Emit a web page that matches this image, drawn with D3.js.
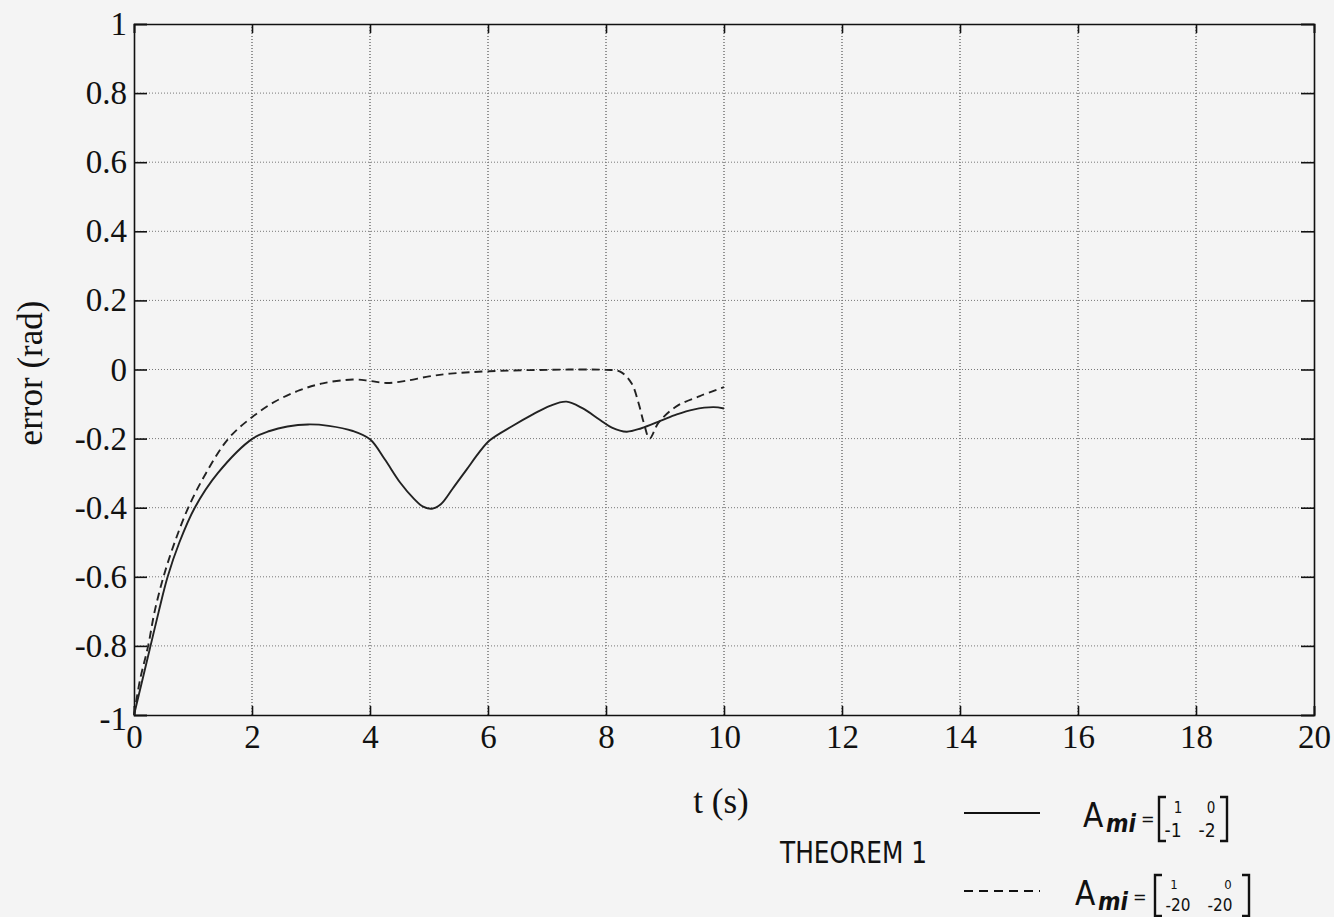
<!DOCTYPE html>
<html>
<head>
<meta charset="utf-8">
<script src="https://cdn.jsdelivr.net/npm/d3@7"></script>
<style>
  html, body { margin: 0; padding: 0; background: #f4f4f4; }
  svg { display: block; }
</style>
</head>
<body>
<svg id="chart" width="1334" height="917"></svg>
<script>
// Tracking error over time for two choices of the reference-model matrix
const xTicks = [0, 2, 4, 6, 8, 10, 12, 14, 16, 18, 20];
const yTicks = [-1, -0.8, -0.6, -0.4, -0.2, 0, 0.2, 0.4, 0.6, 0.8, 1];
const yTickLabels = ["-1", "-0.8", "-0.6", "-0.4", "-0.2", "0", "0.2", "0.4", "0.6", "0.8", "1"];

// Solid series: A_mi = [1 0; -1 -2]
const solidT = [0, 0.14, 0.28, 0.42, 0.57, 0.77, 1.03, 1.42, 2.01, 2.3, 2.6, 2.95, 3.3, 3.71, 4.0, 4.25, 4.51, 4.75, 4.9, 5.05, 5.2, 5.4, 5.64, 5.85, 6.03, 6.4, 6.76, 7.05, 7.33, 7.6, 7.9, 8.1, 8.35, 8.6, 8.92, 9.2, 9.48, 9.82, 10];
const solidE = [-1.0, -0.9, -0.8, -0.7, -0.6, -0.5, -0.4, -0.3, -0.2, -0.178, -0.165, -0.159, -0.163, -0.178, -0.202, -0.26, -0.327, -0.375, -0.397, -0.403, -0.39, -0.345, -0.289, -0.24, -0.205, -0.165, -0.130, -0.105, -0.093, -0.112, -0.146, -0.168, -0.180, -0.170, -0.149, -0.130, -0.116, -0.109, -0.113];

// Dashed series: A_mi = [1 0; -20 -20]
const dashT = [0, 0.1, 0.24, 0.35, 0.5, 0.69, 0.92, 1.22, 1.6, 2.0, 2.4, 2.81, 3.2, 3.71, 4.0, 4.28, 4.6, 5.0, 5.36, 6.03, 7.0, 8.0, 8.24, 8.43, 8.55, 8.64, 8.74, 8.89, 9.2, 9.59, 10];
const dashE = [-1.0, -0.9, -0.8, -0.7, -0.6, -0.5, -0.4, -0.3, -0.2, -0.138, -0.092, -0.06, -0.04, -0.029, -0.033, -0.039, -0.033, -0.02, -0.012, -0.005, -0.001, -0.001, -0.006, -0.039, -0.096, -0.154, -0.200, -0.154, -0.106, -0.077, -0.051];

const svg = d3.select("#chart");
const x = d3.scaleLinear().domain([0, 20]).range([134, 1314]);
const y = d3.scaleLinear().domain([-1, 1]).range([715, 24]);

const serif = "'Liberation Serif', 'DejaVu Serif', serif";
const hand = "'DejaVu Sans Condensed', 'DejaVu Sans', sans-serif";

// Dotted grid
const grid = svg.append("g").attr("stroke-width", 1).attr("stroke-dasharray", "1,2");
grid.selectAll("line.v").data(xTicks.slice(1, -1)).join("line")
  .attr("stroke", "#333")
  .attr("x1", d => x(d)).attr("x2", d => x(d))
  .attr("y1", y(1)).attr("y2", y(-1));
grid.selectAll("line.h").data(yTicks.slice(1, -1)).join("line")
  .attr("stroke", "#777")
  .attr("x1", x(0)).attr("x2", x(20))
  .attr("y1", d => y(d)).attr("y2", d => y(d));

// Axes with inward ticks
const axB = svg.append("g").attr("transform", `translate(0,${y(-1)})`)
  .call(d3.axisBottom(x).tickValues(xTicks).tickSize(-9).tickPadding(10).tickFormat(d3.format("d")));
const axL = svg.append("g").attr("transform", `translate(${x(0)},0)`)
  .call(d3.axisLeft(y).tickValues(yTicks).tickSize(-13).tickPadding(7).tickFormat((d, i) => yTickLabels[i]));
const axT = svg.append("g").attr("transform", `translate(0,${y(1)})`)
  .call(d3.axisTop(x).tickValues(xTicks).tickSize(-9).tickFormat(""));
const axR = svg.append("g").attr("transform", `translate(${x(20)},0)`)
  .call(d3.axisRight(y).tickValues(yTicks).tickSize(-13).tickFormat(""));

[axB, axL, axT, axR].forEach(a => {
  a.select(".domain").attr("stroke", "#111").attr("stroke-width", 1.6);
  a.selectAll(".tick line").attr("stroke", "#111").attr("stroke-width", 1.6);
  a.selectAll("text").attr("font-family", serif).attr("font-size", 33).attr("fill", "#111");
});
axB.selectAll("text").attr("dy", "0.71em");
axL.selectAll(".tick text").filter(d => d === -1).attr("dy", "0.45em");

// Axis titles
svg.append("text")
  .attr("transform", `translate(42,373) rotate(-90)`)
  .attr("text-anchor", "middle")
  .attr("font-family", serif).attr("font-size", 35).attr("fill", "#111")
  .text("error (rad)");
svg.append("text")
  .attr("x", 721).attr("y", 813)
  .attr("text-anchor", "middle")
  .attr("font-family", serif).attr("font-size", 35).attr("fill", "#111")
  .text("t (s)");

// Series
const line = d3.line().x(d => x(d[0])).y(d => y(d[1])).curve(d3.curveCatmullRom.alpha(0.5));
svg.append("path")
  .datum(d3.zip(solidT, solidE))
  .attr("d", line).attr("fill", "none")
  .attr("stroke", "#222").attr("stroke-width", 1.9);
svg.append("path")
  .datum(d3.zip(dashT, dashE))
  .attr("d", line).attr("fill", "none")
  .attr("stroke", "#222").attr("stroke-width", 1.9)
  .attr("stroke-dasharray", "8,5");

// Hand-lettered annotation
svg.append("text")
  .attr("x", 780).attr("y", 863)
  .attr("font-family", hand).attr("font-size", 31).attr("fill", "#111")
  .attr("textLength", 147).attr("lengthAdjust", "spacingAndGlyphs")
  .text("THEOREM 1");

// Legend: line sample followed by the matrix A_mi
function legendEntry(y0, dashed, top, bot, aX, lbX, rbX, rowTop, rowBot) {
  const g = svg.append("g").attr("fill", "#111").attr("font-family", hand);
  g.append("line")
    .attr("x1", 964).attr("x2", 1040).attr("y1", y0).attr("y2", y0)
    .attr("stroke", "#111").attr("stroke-width", 2.2)
    .attr("stroke-dasharray", dashed ? "9,6" : null);
  g.append("text").attr("x", aX).attr("y", y0 + 14).attr("font-size", 33).text("A");
  g.append("text").attr("x", aX + 23).attr("y", y0 + 19).attr("font-size", 24)
    .attr("font-style", "italic").attr("font-weight", "bold").text("mi");
  g.append("text").attr("x", aX + 58).attr("y", y0 + 12).attr("font-size", 18).text("=");
  g.append("path").attr("d", `M${lbX + 7},${top} H${lbX} V${bot} H${lbX + 7}`)
    .attr("fill", "none").attr("stroke", "#111").attr("stroke-width", 2.4);
  g.append("path").attr("d", `M${rbX - 7},${top} H${rbX} V${bot} H${rbX - 7}`)
    .attr("fill", "none").attr("stroke", "#111").attr("stroke-width", 2.4);
  rowTop.forEach(e => g.append("text").attr("x", e.x).attr("y", e.y)
    .attr("text-anchor", "middle").attr("font-size", e.s).text(e.v));
  rowBot.forEach(e => g.append("text").attr("x", e.x).attr("y", e.y)
    .attr("text-anchor", "middle").attr("font-size", e.s).text(e.v));
}
legendEntry(813, false, 797, 841, 1083, 1159, 1227,
  [{ v: "1", x: 1178, y: 813, s: 15 }, { v: "0", x: 1211, y: 813, s: 15 }],
  [{ v: "-1", x: 1173, y: 837, s: 19 }, { v: "-2", x: 1207, y: 837, s: 19 }]);
legendEntry(891, true, 875, 916, 1075, 1155, 1249,
  [{ v: "1", x: 1174, y: 889, s: 13 }, { v: "0", x: 1228, y: 889, s: 13 }],
  [{ v: "-20", x: 1178, y: 911, s: 17 }, { v: "-20", x: 1220, y: 911, s: 17 }]);
</script>
</body>
</html>
